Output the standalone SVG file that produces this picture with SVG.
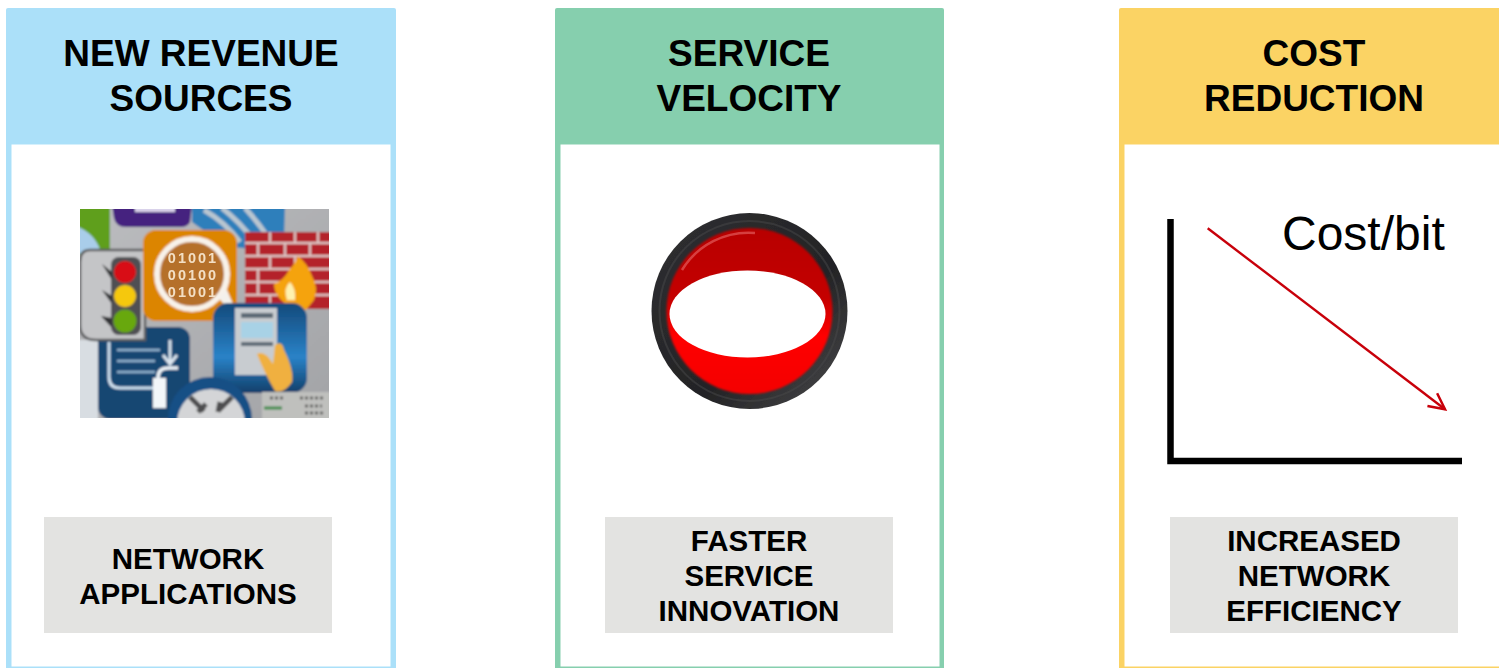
<svg xmlns="http://www.w3.org/2000/svg" width="1499" height="668" viewBox="0 0 1499 668">
<style>
.h{font:bold 37px "Liberation Sans",Arial,sans-serif;text-anchor:middle;fill:#000}
.s{font:bold 29.500px "Liberation Sans",Arial,sans-serif;text-anchor:middle;fill:#000}
.d{font:bold 14.500px "Liberation Sans",Arial,sans-serif;letter-spacing:2px;text-anchor:middle;fill:#f3dfc4}
.box{fill:#e3e3e1}
.in{fill:#fff}
</style>
<defs>
<filter id="soft" x="-5%" y="-5%" width="110%" height="110%"><feGaussianBlur stdDeviation="1.2"/></filter>
<filter id="soft2" x="-5%" y="-5%" width="110%" height="110%"><feGaussianBlur stdDeviation="0.7"/></filter>
<filter id="soft3" x="-5%" y="-5%" width="110%" height="110%"><feGaussianBlur stdDeviation="1.3"/></filter>
<clipPath id="clip"><rect x="80" y="209" width="249" height="209"/></clipPath>
<clipPath id="lens"><circle cx="192" cy="274" r="33"/></clipPath>
<linearGradient id="bg" x1="0" y1="0" x2="1" y2="1"><stop offset="0" stop-color="#bcbdc0"/><stop offset="1" stop-color="#a2a3a6"/></linearGradient>
<linearGradient id="blue" x1="0" y1="0" x2="0" y2="1"><stop offset="0" stop-color="#14497a"/><stop offset="0.6" stop-color="#2a83c8"/><stop offset="1" stop-color="#123f6a"/></linearGradient>
<linearGradient id="red" x1="0" y1="0" x2="0" y2="1"><stop offset="0" stop-color="#b80000"/><stop offset="0.42" stop-color="#c40000"/><stop offset="0.65" stop-color="#ff0000"/><stop offset="1" stop-color="#f40000"/></linearGradient>
<linearGradient id="ring" x1="0" y1="0" x2="1" y2="1"><stop offset="0" stop-color="#303032"/><stop offset="0.6" stop-color="#232325"/><stop offset="1" stop-color="#4a4a4c"/></linearGradient>
<marker id="open" viewBox="0 0 24 24" refX="21" refY="12" markerWidth="24" markerHeight="24" markerUnits="userSpaceOnUse" orient="auto"><path d="M5 4 L21 12 L5 20" fill="none" stroke="#c8000a" stroke-width="2.500"/></marker>
</defs>

<g id="panel-revenue">
<rect x="6" y="8" width="390" height="662" rx="2" fill="#abe0f9"/>
<rect class="in" x="11.500" y="144.500" width="379" height="522"/>
<text class="h" x="201" y="65.500">NEW REVENUE</text>
<text class="h" x="201" y="110.500">SOURCES</text>
<rect class="box" x="44" y="517" width="288" height="116"/>
<text class="s" x="188" y="568.500">NETWORK</text>
<text class="s" x="188" y="603.500">APPLICATIONS</text>
</g>

<g id="icon-collage" clip-path="url(#clip)">
<g filter="url(#soft)">
<rect x="76" y="205" width="257" height="217" fill="url(#bg)"/>
<rect x="76" y="340" width="22" height="82" fill="#d8dde2"/>
<path d="M76 205H110V250Q98 256 76 254Z" fill="#5f9f1f"/>
<path d="M76 226Q95 233 101 252L76 254Z" fill="#a9cdea"/>
<path d="M112 205H192L190 222Q188 227 180 227H126Q116 227 114 218Z" fill="#45207f"/>
<rect x="135" y="205" width="40" height="7" fill="#d9d2ea"/>
<path d="M192 205H285L284 240Q280 252 262 250L232 247Q205 232 192 222Z" fill="#2f7fbb"/>
<path d="M204 210Q225 222 240 242M222 208Q240 222 255 242M245 208Q258 222 270 240" fill="none" stroke="#b9c6d0" stroke-width="5"/>
<rect x="245" y="232" width="88" height="77" fill="#b4202a"/>
<path d="M245 243H333M245 256H333M245 269H333M245 282H333M245 295H333M270 232V243M295 232V243M318 232V243M258 243V256M285 243V256M310 243V256M270 256V269M295 256V269M258 269V282M258 282V295M270 295V309" stroke="#dcc4c2" stroke-width="2.500" fill="none"/>
<path d="M292 308Q274 298 274 284Q284 280 289 270Q295 264 298 256Q308 264 312 276Q319 288 314 300L306 310Z" fill="#f5a30f"/>
<path d="M287 300Q283 288 290 282Q296 288 295 300Z" fill="#fff2b0"/>
<rect x="98" y="327" width="92" height="92" rx="12" fill="#164672"/>
<path d="M109 342V377Q109 388 120 388H165" fill="none" stroke="#cfe0ee" stroke-width="3"/>
<path d="M117 350H160M117 361H155M117 372H155" stroke="#8fb0cc" stroke-width="2.500"/>
<path d="M170 340V362M163 355L170 364L177 355" fill="none" stroke="#dbe5ee" stroke-width="3"/>
<path d="M158 378Q158 368 168 368H178" fill="none" stroke="#eef3f7" stroke-width="3.500"/>
<rect x="153" y="378" width="13" height="30" fill="#f3f6f9"/>
<path d="M90 250H145V340H96Q80 340 80 325V262Q80 250 90 250Z" fill="#c4c5c7" stroke="#5c5d5f" stroke-width="2.500"/>
<rect x="111" y="257" width="30" height="78" rx="8" fill="#4f5052"/>
<path d="M102 264L112 272V280ZM102 290L112 296V304ZM101 316L112 318V328Z" fill="#323335"/>
<circle cx="125" cy="272" r="11" fill="#d80c18"/>
<circle cx="125" cy="296" r="11" fill="#f5c80c"/>
<circle cx="125" cy="321" r="11.500" fill="#68a80a"/>
<rect x="143" y="230" width="94" height="91" rx="13" fill="#dc8500"/>
<circle cx="192" cy="274" r="35" fill="#b5702c" stroke="#f8f2ea" stroke-width="6"/>
<path d="M222 298L236 314L232 308L226 294Z" fill="#f4f1ec" stroke="#f4f1ec" stroke-width="5"/>
<rect x="213" y="303" width="94" height="90" rx="15" fill="url(#blue)"/>
<rect x="235" y="308" width="42" height="67" fill="#c8ccd0"/>
<rect x="241" y="322" width="32" height="16" fill="#a8d2e6"/>
<rect x="241" y="313" width="32" height="5" fill="#5d6a76"/>
<rect x="241" y="342" width="32" height="4" fill="#5d6a76"/>
<path d="M257 354Q265 350 273 364L275 345Q282 340 284 350Q294 370 292 382Q284 394 275 391Q264 372 257 354Z" fill="#f0b040"/>
<circle cx="210" cy="419" r="42" fill="#174f85"/>
<circle cx="211" cy="423" r="34" fill="#d4d5d7"/>
<path d="M190 397L204 411M198 412L206 404M232 397L218 411M220 402L218 412" stroke="#4d4e4f" stroke-width="5" fill="none"/>
<rect x="262" y="392" width="71" height="30" fill="#bfc0bd"/>
<path d="M270 398H285M300 398H325M305 406H322M305 413H325" stroke="#4d4e4c" stroke-width="2.500" stroke-dasharray="3 2"/>
<path d="M264 408H282" stroke="#3c8b4a" stroke-width="3"/>
</g>
<g clip-path="url(#lens)" filter="url(#soft2)">
<text class="d" x="193" y="263">01001</text>
<text class="d" x="193" y="280">00100</text>
<text class="d" x="193" y="297">01001</text>
</g>
</g>

<g id="panel-velocity">
<rect x="555" y="8" width="389" height="662" rx="2" fill="#86cfae"/>
<rect class="in" x="560.500" y="144.500" width="379" height="522"/>
<text class="h" x="749" y="65.500">SERVICE</text>
<text class="h" x="749" y="110.500">VELOCITY</text>
<rect class="box" x="605" y="517" width="288" height="116"/>
<text class="s" x="749" y="551">FASTER</text>
<text class="s" x="749" y="586">SERVICE</text>
<text class="s" x="749" y="621">INNOVATION</text>
</g>

<g id="icon-button">
<circle cx="749.500" cy="311" r="98" fill="url(#ring)" filter="url(#soft2)"/>
<circle cx="749.500" cy="311" r="90" fill="none" stroke="#48484a" stroke-width="2" opacity=".5" filter="url(#soft2)"/>
<circle cx="749.500" cy="311" r="83" fill="url(#red)" filter="url(#soft3)"/>
<path d="M682 270A78 78 0 0 1 755 233" fill="none" stroke="#e86a6a" stroke-width="2.500" opacity=".6" filter="url(#soft2)"/>
<ellipse cx="747.500" cy="314" rx="78" ry="43.500" fill="#fff"/>
</g>

<g id="panel-cost">
<rect x="1119" y="8" width="384" height="662" rx="2" fill="#fbd364"/>
<rect class="in" x="1124.500" y="144.500" width="379" height="522"/>
<text class="h" x="1314" y="65.500">COST</text>
<text class="h" x="1314" y="110.500">REDUCTION</text>
<rect class="box" x="1170" y="517" width="288" height="116"/>
<text class="s" x="1314" y="551">INCREASED</text>
<text class="s" x="1314" y="586">NETWORK</text>
<text class="s" x="1314" y="621">EFFICIENCY</text>
<text x="1282" y="250" font-family="'Liberation Sans',Arial,sans-serif" font-size="48" fill="#000">Cost/bit</text>
<path d="M1170.500 219V461H1462" fill="none" stroke="#000" stroke-width="6.500"/>
</g>

<g id="connectors">
<line x1="1207.700" y1="228.300" x2="1445" y2="409.300" stroke="#c8000a" stroke-width="2.400" marker-end="url(#open)"/>
</g>
</svg>
